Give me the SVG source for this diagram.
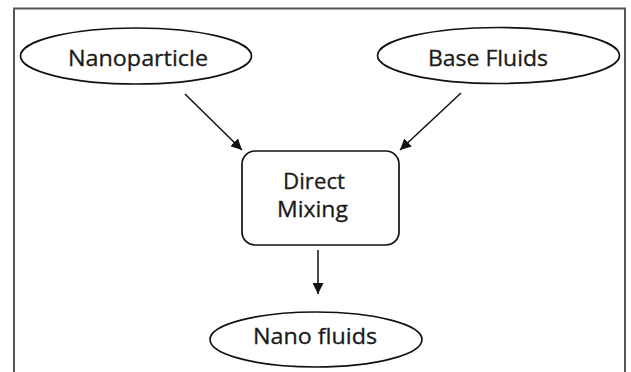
<svg xmlns="http://www.w3.org/2000/svg" width="631" height="372" viewBox="0 0 631 372">
  <style>
    .node { fill: #fff; stroke: #111; stroke-width: 1.7; }
    .label { font-family: "Open Sans", "Liberation Sans", sans-serif; font-size: 22px; fill: #1a1a1a; stroke: #1a1a1a; stroke-width: 0.3; text-anchor: middle; }
    .conn { stroke: #111; stroke-width: 1.5; fill: none; }
  </style>
  <defs>
    <marker id="arrow" viewBox="0 0 11 11" refX="11" refY="5.5" markerWidth="11" markerHeight="11" markerUnits="userSpaceOnUse" orient="auto">
      <path d="M0,0 L11,5.5 L0,11 z" fill="#111"/>
    </marker>
  </defs>
  <rect x="0" y="0" width="631" height="372" fill="#fff"/>
  <!-- outer frame, open at the bottom -->
  <path d="M14,380 L14,8.5 L625,8.5 L625,380" fill="none" stroke="#555" stroke-width="2"/>

  <g id="nanoparticle">
    <ellipse class="node" cx="136" cy="56" rx="115.5" ry="28"/>
    <text class="label" x="138" y="66" textLength="140" lengthAdjust="spacingAndGlyphs">Nanoparticle</text>
  </g>
  <g id="base-fluids">
    <ellipse class="node" cx="498.5" cy="55.5" rx="121" ry="28"/>
    <text class="label" x="488" y="66" textLength="120" lengthAdjust="spacingAndGlyphs">Base Fluids</text>
  </g>
  <g id="direct-mixing">
    <rect class="node" x="242" y="151" width="157" height="94" rx="13" ry="13"/>
    <text class="label" x="314" y="189" textLength="62" lengthAdjust="spacingAndGlyphs">Direct</text>
    <text class="label" x="312.5" y="217" textLength="71" lengthAdjust="spacingAndGlyphs">Mixing</text>
  </g>
  <g id="nano-fluids">
    <ellipse class="node" cx="316" cy="339.5" rx="106" ry="27.5"/>
    <text class="label" x="315" y="344" textLength="124" lengthAdjust="spacingAndGlyphs">Nano fluids</text>
  </g>

  <g id="connectors">
    <line class="conn" x1="185" y1="94" x2="242" y2="150" marker-end="url(#arrow)"/>
    <line class="conn" x1="461" y1="93" x2="400" y2="150" marker-end="url(#arrow)"/>
    <line class="conn" x1="318" y1="250" x2="318" y2="294" marker-end="url(#arrow)"/>
  </g>
</svg>
